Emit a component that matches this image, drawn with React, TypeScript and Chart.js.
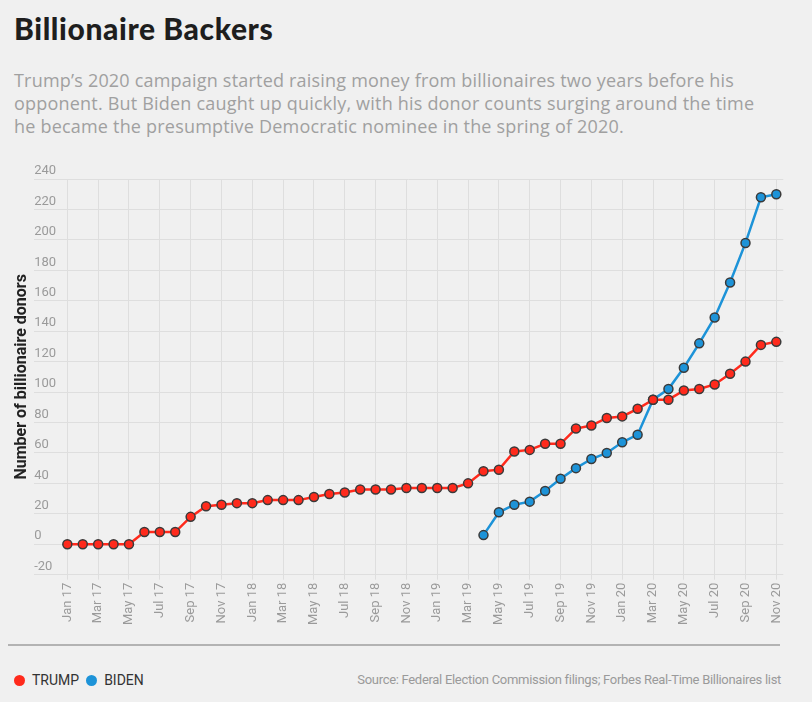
import React, { useEffect, useRef } from "react";
import { Chart, registerables } from "chart.js";

Chart.register(...registerables);

// Monthly timeline, January 2017 through November 2020
const months = [
  "Jan 17", "Feb 17", "Mar 17", "Apr 17", "May 17", "Jun 17", "Jul 17", "Aug 17", "Sep 17", "Oct 17", "Nov 17", "Dec 17",
  "Jan 18", "Feb 18", "Mar 18", "Apr 18", "May 18", "Jun 18", "Jul 18", "Aug 18", "Sep 18", "Oct 18", "Nov 18", "Dec 18",
  "Jan 19", "Feb 19", "Mar 19", "Apr 19", "May 19", "Jun 19", "Jul 19", "Aug 19", "Sep 19", "Oct 19", "Nov 19", "Dec 19",
  "Jan 20", "Feb 20", "Mar 20", "Apr 20", "May 20", "Jun 20", "Jul 20", "Aug 20", "Sep 20", "Oct 20", "Nov 20",
];

// Cumulative billionaire donors per month
const trumpDonors = [
  0, 0, 0, 0, 0, 8, 8, 8, 18, 25, 26, 27,
  27, 29, 29, 29, 31, 33, 34, 36, 36, 36, 37, 37,
  37, 37, 40, 48, 49, 61, 62, 66, 66, 76, 78, 83,
  84, 89, 95, 95, 101, 102, 105, 112, 120, 131, 133,
];

const bidenDonors = [
  null, null, null, null, null, null, null, null, null, null, null, null,
  null, null, null, null, null, null, null, null, null, null, null, null,
  null, null, null, 6, 21, 26, 28, 35, 43, 50, 56, 60,
  67, 72, 95, 102, 116, 132, 149, 172, 198, 228, 230,
];

// Labelled months: every second month
const tickMonths = [0, 2, 4, 6, 8, 10, 12, 14, 16, 18, 20, 22, 24, 26, 28, 30, 32, 34, 36, 38, 40, 42, 44, 46];

const yTicks = { min: -20, max: 240, step: 20 };

const TRUMP_RED = "#ff2a1c";
const BIDEN_BLUE = "#1d93d8";
const POINT_BORDER = "#3a3a3a";
const GRID = "#dedede";
const TICK_GRAY = "#9a9a9a";

function BackersChart() {
  const canvasRef = useRef<HTMLCanvasElement | null>(null);

  useEffect(() => {
    if (!canvasRef.current) return;
    const toPoints = (arr: (number | null)[]) =>
      arr.map((v, i) => ({ x: i, y: v }));

    const chart = new Chart(canvasRef.current, {
      type: "line",
      data: {
        datasets: [
          {
            label: "TRUMP",
            data: toPoints(trumpDonors) as any,
            borderColor: TRUMP_RED,
            backgroundColor: TRUMP_RED,
            borderWidth: 2.5,
            pointRadius: 4.5,
            pointBorderWidth: 1.5,
            pointBorderColor: POINT_BORDER,
            pointBackgroundColor: TRUMP_RED,
            tension: 0,
          },
          {
            label: "BIDEN",
            data: toPoints(bidenDonors) as any,
            borderColor: BIDEN_BLUE,
            backgroundColor: BIDEN_BLUE,
            borderWidth: 2.5,
            pointRadius: 4.5,
            pointBorderWidth: 1.5,
            pointBorderColor: POINT_BORDER,
            pointBackgroundColor: BIDEN_BLUE,
            tension: 0,
          },
        ],
      },
      options: {
        animation: false,
        responsive: true,
        maintainAspectRatio: false,
        layout: { padding: { top: 28, right: 8, bottom: 0, left: 0 } },
        plugins: {
          legend: { display: false },
          tooltip: { enabled: false },
        },
        scales: {
          x: {
            type: "linear",
            min: -2.15,
            max: 46.45,
            afterBuildTicks: (scale: any) => {
              scale.ticks = tickMonths.map((v) => ({ value: v }));
            },
            grid: {
              color: GRID,
              lineWidth: 1,
              drawTicks: true,
              tickLength: 5,
              tickColor: GRID,
            },
            border: { display: false },
            ticks: {
              autoSkip: false,
              minRotation: 90,
              maxRotation: 90,
              padding: 3,
              color: TICK_GRAY,
              font: { family: "Roboto", size: 13 },
              callback: (value: any) => months[Number(value)] ?? "",
            },
          },
          y: {
            min: yTicks.min,
            max: yTicks.max,
            grid: { color: GRID, lineWidth: 1, drawTicks: false },
            border: { display: false },
            ticks: {
              stepSize: yTicks.step,
              mirror: true,
              padding: 0,
              labelOffset: -8,
              color: TICK_GRAY,
              font: { family: "Roboto", size: 13 },
            },
            title: {
              display: true,
              text: "Number of billionaire donors",
              color: "#222",
              font: { family: "Roboto", size: 16, weight: "bold" },
              padding: { top: 4, bottom: 3 },
            },
          },
        },
      },
    });
    return () => chart.destroy();
  }, []);

  return (
    <div style={{ position: "absolute", left: 0, top: 143, width: 787, height: 477 }}>
      <canvas ref={canvasRef} />
    </div>
  );
}

export default function App() {
  return (
    <div style={{ position: "relative", width: 796, height: 686, fontFamily: "Roboto, sans-serif" }}>
      <style>{`html,body{background:#f0f0f0;margin:0;}body{margin:8px;}`}</style>
      <div
        style={{
          position: "absolute",
          left: 6,
          top: 2,
          fontFamily: "Lato, sans-serif",
          fontWeight: 900,
          fontSize: 30,
          letterSpacing: 0.6,
          lineHeight: "36px",
          color: "#1e1e1e",
          whiteSpace: "nowrap",
        }}
      >
        Billionaire Backers
      </div>
      <div
        style={{
          position: "absolute",
          left: 6,
          top: 61,
          fontFamily: "'Open Sans', sans-serif",
          fontSize: 18,
          letterSpacing: 0.2,
          lineHeight: "23px",
          color: "#a0a0a0",
          whiteSpace: "nowrap",
        }}
      >
        <div>Trump’s 2020 campaign started raising money from billionaires two years before his</div>
        <div>opponent. But Biden caught up quickly, with his donor counts surging around the time</div>
        <div>he became the presumptive Democratic nominee in the spring of 2020.</div>
      </div>
      <BackersChart />
      <div
        style={{
          position: "absolute",
          left: 0,
          top: 636,
          width: 772,
          height: 2,
          background: "#b3b3b3",
        }}
      />
      <div
        style={{
          position: "absolute",
          left: 6,
          top: 663,
          height: 18,
          display: "flex",
          alignItems: "center",
          fontSize: 14,
          color: "#333",
          whiteSpace: "nowrap",
        }}
      >
        <span style={{ width: 11, height: 11, borderRadius: "50%", background: TRUMP_RED, display: "inline-block", marginRight: 7 }} />
        <span>TRUMP</span>
        <span style={{ width: 11, height: 11, borderRadius: "50%", background: BIDEN_BLUE, display: "inline-block", marginLeft: 7, marginRight: 7 }} />
        <span>BIDEN</span>
      </div>
      <div
        style={{
          position: "absolute",
          right: 23,
          top: 663,
          height: 18,
          lineHeight: "18px",
          fontSize: 13,
          letterSpacing: -0.3,
          color: "#9a9a9a",
          whiteSpace: "nowrap",
        }}
      >
        Source: Federal Election Commission filings; Forbes Real-Time Billionaires list
      </div>
    </div>
  );
}
